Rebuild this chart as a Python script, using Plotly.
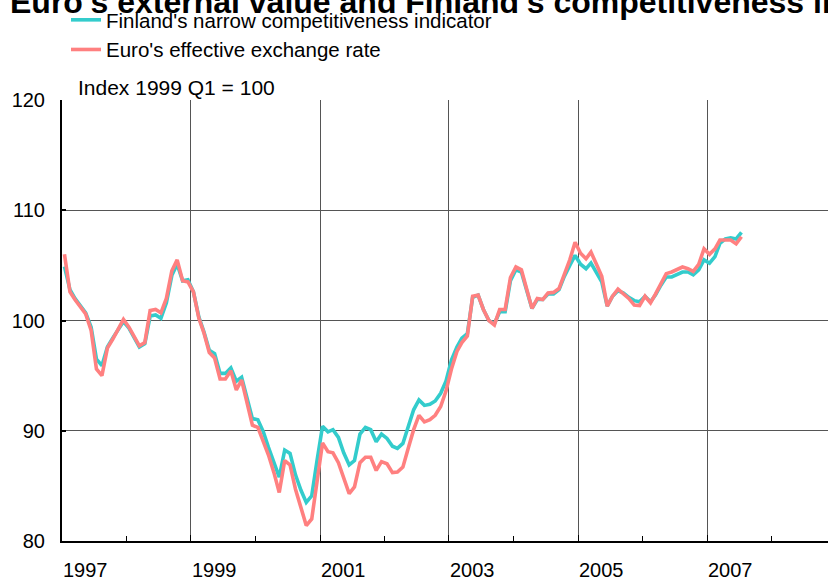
import pandas as pd
import plotly.graph_objects as go

# Monthly observations, January 1997 - July 2007 (plotted mid-month)
months = pd.date_range("1997-01-01", "2007-07-01", freq="MS") + pd.Timedelta(days=14)

finland_narrow = [
    104.9, 102.8, 102.0, 101.4, 100.7, 99.4, 96.5, 95.9, 97.6, 98.4, 99.2, 99.9,
    99.3, 98.4, 97.6, 97.9, 100.4, 100.5, 100.2, 101.6, 104.1, 105.1, 103.6, 103.7,
    102.6, 100.3, 99.0, 97.3, 97.0, 95.2, 95.2, 95.7, 94.5, 94.85, 92.8, 91.1,
    91.0, 89.9, 88.5, 87.1, 85.8, 88.25, 87.95, 86.0, 84.6, 83.5, 84.1, 87.3,
    90.4, 89.9, 90.1, 89.4, 88.0, 86.9, 87.3, 89.7, 90.3, 90.1, 89.0, 89.7,
    89.3, 88.6, 88.4, 88.85, 90.4, 91.9, 92.8, 92.3, 92.4, 92.7, 93.4, 94.5,
    96.4, 97.6, 98.4, 98.8, 102.1, 102.3, 101.0, 100.0, 99.7, 100.8, 100.8, 103.6,
    104.6, 104.4, 102.8, 101.1, 101.9, 101.9, 102.4, 102.4, 102.8, 104.0, 105.0, 105.9,
    105.1, 104.7, 105.2, 104.3, 103.5, 101.3, 102.2, 102.7, 102.5, 102.1, 101.8, 101.7,
    102.2, 101.7, 102.3, 103.2, 103.95, 103.95, 104.2, 104.4, 104.4, 104.15, 104.6, 105.5,
    105.2, 105.8, 107.0, 107.4, 107.5, 107.4, 108.0,
]

euro_effective = [
    106.0, 102.6, 101.9, 101.3, 100.6, 99.1, 95.6, 95.0, 97.5, 98.3, 99.3, 100.1,
    99.4, 98.5, 97.7, 98.0, 100.9, 101.0, 100.7, 102.0, 104.5, 105.5, 103.6, 103.5,
    102.6, 100.2, 98.9, 97.1, 96.6, 94.7, 94.7, 95.45, 93.7, 94.6, 92.4, 90.5,
    90.3, 89.0, 87.8, 86.2, 84.4, 87.3, 86.9, 84.7, 82.9, 81.4, 82.0, 85.5,
    88.9, 88.1, 88.0, 87.1, 85.6, 84.3, 84.9, 87.1, 87.6, 87.6, 86.4, 87.2,
    87.0, 86.2, 86.25, 86.7, 88.4, 90.1, 91.4, 90.8, 91.0, 91.4, 92.2, 93.6,
    95.6, 97.2, 98.0, 98.6, 102.2, 102.3, 101.0, 100.0, 99.6, 101.0, 101.0, 103.9,
    104.85, 104.6, 102.9, 101.1, 102.0, 101.9, 102.5, 102.55, 102.9, 104.2, 105.5, 107.1,
    106.1, 105.6, 106.2, 105.1, 104.0, 101.3, 102.2, 102.85, 102.4, 102.0, 101.4, 101.35,
    102.2, 101.6, 102.4, 103.4, 104.25, 104.4, 104.6, 104.85, 104.7, 104.45, 105.1, 106.5,
    106.0, 106.5, 107.3, 107.3, 107.3, 106.95, 107.6,
]

year_labels = ["1997", "1999", "2001", "2003", "2005", "2007"]

FONT = "Liberation Sans, Arial, Helvetica, sans-serif"
TEAL = "#33CCCC"
RED = "#FF8080"

fig = go.Figure()
fig.add_trace(go.Scatter(
    x=months, y=finland_narrow, mode="lines",
    name="Finland's narrow competitiveness indicator",
    line=dict(color=TEAL, width=3.6), legendgroup="a",
))
fig.add_trace(go.Scatter(
    x=months, y=euro_effective, mode="lines",
    name="Euro's effective exchange rate",
    line=dict(color=RED, width=3.6), legendgroup="b",
))

annotations = [
    dict(text="<b>Euro's external value and Finland's competitiveness indicators</b>",
         xref="paper", yref="paper", x=0, y=1, xanchor="left", yanchor="middle",
         xshift=-54, yshift=98, showarrow=False,
         font=dict(family=FONT, size=32, color="black")),
    dict(text="Index 1999 Q1 = 100", xref="paper", yref="paper", x=0, y=1,
         xanchor="left", yanchor="middle", xshift=14, yshift=13, showarrow=False,
         font=dict(family=FONT, size=21, color="black")),
]
for lab in year_labels:
    annotations.append(dict(
        text=lab, xref="x", yref="paper", x=f"{lab}-01-01", y=0,
        xanchor="left", yanchor="middle", xshift=-1, yshift=-29, showarrow=False,
        font=dict(family=FONT, size=20, color="black")))

fig.update_layout(
    width=828, height=580,
    margin=dict(l=62, r=0, t=100, b=39),
    paper_bgcolor="white", plot_bgcolor="white",
    font=dict(family=FONT, size=20, color="black"),
    showlegend=True,
    legend=dict(x=0.0052, xanchor="left", y=1.0053, yanchor="top", yref="container",
                font=dict(size=20.5), bgcolor="rgba(0,0,0,0)",
                traceorder="grouped", tracegroupgap=0, itemwidth=30),
    annotations=annotations,
)
fig.update_xaxes(
    type="date", range=["1997-01-01", "2008-11-16"],
    tick0="1997-01-01", dtick="M24", showticklabels=False,
    ticks="inside", ticklen=6, tickwidth=1, tickcolor="black",
    minor=dict(dtick="M12", ticks="inside", ticklen=5, tickcolor="black", showgrid=False),
    showgrid=True, gridcolor="#555555", gridwidth=1,
    showline=True, linecolor="black", linewidth=2, zeroline=False,
)
fig.update_yaxes(
    range=[80, 120], dtick=10, tick0=80,
    ticks="inside", ticklen=4, tickwidth=2, tickcolor="black",
    showgrid=True, gridcolor="#555555", gridwidth=1,
    showline=True, linecolor="black", linewidth=2, zeroline=False,
    tickfont=dict(family=FONT, size=20), ticklabelstandoff=11,
)

fig.write_html("out.html", config={"displayModeBar": False},
               post_script="document.body.style.margin='0';")
